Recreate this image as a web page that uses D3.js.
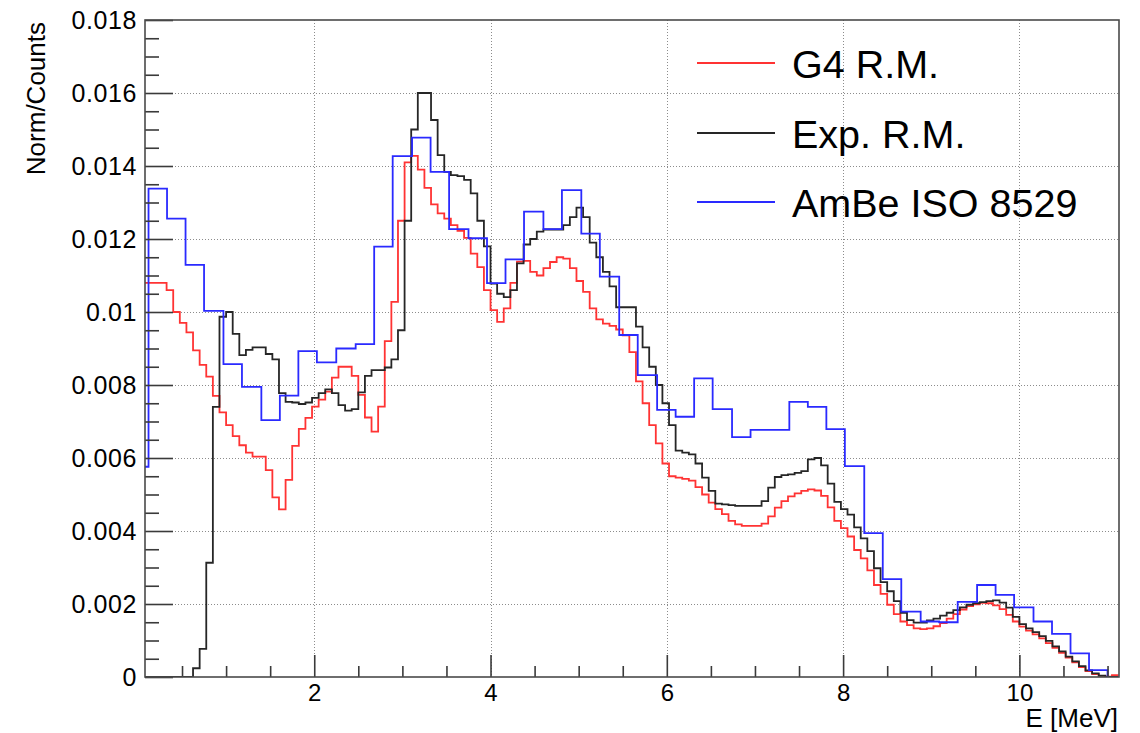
<!DOCTYPE html>
<html>
<head>
<meta charset="utf-8">
<script src="https://cdn.jsdelivr.net/npm/d3@7"></script>
<style>
  html, body { margin: 0; padding: 0; background: #fff; }
  svg { display: block; }
  text { font-family: "Liberation Sans", Arial, Helvetica, sans-serif; fill: #000; }
</style>
</head>
<body>
<svg id="chart" width="1140" height="733"></svg>
<script>
// Fine-binned histograms (G4 response matrix and experimental response matrix):
// 148 bins of 0.075 MeV starting at 0.025 MeV.
const fineBinLow = 0.025;
const fineBinWidth = 0.075;

const g4Values = [
  0.0108, 0.0108, 0.0108, 0.0108, 0.0106, 0.0100, 0.0097, 0.00944, 0.00895, 0.00855,
  0.00823, 0.0077, 0.00725, 0.0069, 0.0066, 0.00635, 0.00615, 0.00604, 0.00604, 0.00567,
  0.00492, 0.00459, 0.0054, 0.00633, 0.0068, 0.0071, 0.00741, 0.0076, 0.00782, 0.0082,
  0.0085, 0.0085, 0.00825, 0.00773, 0.00711, 0.00672, 0.00741, 0.0092, 0.01028, 0.0125,
  0.0141, 0.01428, 0.0139, 0.0134, 0.01295, 0.0127, 0.01256, 0.01238, 0.01222, 0.01203,
  0.0116, 0.01123, 0.0106, 0.01005, 0.00973, 0.0101, 0.0108, 0.01138, 0.0114, 0.0111,
  0.011, 0.0112, 0.01137, 0.0115, 0.01146, 0.0112, 0.01085, 0.01055, 0.0101, 0.0098,
  0.00968, 0.00962, 0.00952, 0.00936, 0.0089, 0.0081, 0.0075, 0.0069, 0.0064, 0.00585,
  0.0055, 0.00546, 0.00543, 0.00538, 0.0052, 0.005, 0.00478, 0.0046, 0.00446, 0.00428,
  0.00418, 0.00414, 0.00414, 0.00414, 0.0042, 0.0044, 0.00464, 0.00482, 0.00495, 0.00503,
  0.0051, 0.00514, 0.00511, 0.00496, 0.00465, 0.00428, 0.00408, 0.00385, 0.00348, 0.00325,
  0.00292, 0.00252, 0.00228, 0.00198, 0.00172, 0.00152, 0.00142, 0.00133, 0.00131, 0.00133,
  0.00139, 0.00148, 0.0016, 0.00172, 0.00185, 0.00194, 0.00199, 0.00203, 0.00202, 0.00196,
  0.00186, 0.0017, 0.00152, 0.00138, 0.00127, 0.00117, 0.00106, 0.00093, 0.0008, 0.00066,
  0.00053, 0.0004, 0.00027, 0.00016, 0.00008, 0.00003, 0.00001, 0.00005
];

const expValues = [
  0, 0, 0, 0, 0, 0, 0, 0, 0.00024, 0.00077,
  0.00313, 0.0074, 0.00987, 0.0100, 0.0094, 0.00882, 0.00896, 0.00903, 0.00903, 0.00885,
  0.0087, 0.00778, 0.00754, 0.00752, 0.00748, 0.00752, 0.00765, 0.00778, 0.00788, 0.00778,
  0.00745, 0.0073, 0.00734, 0.0078, 0.00825, 0.00841, 0.00841, 0.00848, 0.0087, 0.0095,
  0.0125, 0.0150, 0.0160, 0.0160, 0.01526, 0.0143, 0.01384, 0.01375, 0.01372, 0.01362,
  0.01325, 0.0125, 0.0118, 0.01078, 0.0105, 0.01041, 0.0106, 0.01133, 0.01185, 0.012,
  0.0122, 0.01226, 0.01226, 0.01226, 0.01238, 0.0126, 0.01286, 0.0126, 0.0119, 0.0115,
  0.0111, 0.0107, 0.01013, 0.01013, 0.01013, 0.0096, 0.00903, 0.0085, 0.0080, 0.0075,
  0.0069, 0.0062, 0.00615, 0.0061, 0.00585, 0.00546, 0.0051, 0.00475, 0.00473, 0.00471,
  0.00469, 0.00469, 0.00469, 0.00469, 0.00482, 0.00519, 0.00548, 0.00553, 0.00555, 0.00559,
  0.00564, 0.00596, 0.006, 0.0058, 0.0053, 0.0048, 0.0046, 0.00445, 0.0041, 0.0038,
  0.00345, 0.00298, 0.0026, 0.00235, 0.00208, 0.00176, 0.00156, 0.00149, 0.00149, 0.00155,
  0.0016, 0.00168, 0.00176, 0.00183, 0.00191, 0.00198, 0.00202, 0.00205, 0.00208, 0.0021,
  0.00204, 0.0019, 0.00165, 0.00145, 0.00133, 0.00123, 0.00112, 0.00099, 0.00084, 0.0007,
  0.00056, 0.00043, 0.0003, 0.00018, 0.0001, 0.00004, 0, 0
];

// ISO 8529 AmBe reference spectrum: coarse bins with explicit edges (MeV).
const isoEdges = [
  -0.09, 0.12, 0.33, 0.54, 0.75, 0.97, 1.18, 1.40, 1.61, 1.82,
  2.03, 2.25, 2.47, 2.68, 2.89, 3.11, 3.32, 3.53, 3.75, 3.96,
  4.17, 4.38, 4.60, 4.81, 5.03, 5.24, 5.46, 5.67, 5.89, 6.10,
  6.31, 6.52, 6.74, 6.95, 7.17, 7.39, 7.60, 7.81, 8.02, 8.24,
  8.45, 8.66, 8.88, 9.09, 9.30, 9.52, 9.73, 9.94, 10.16, 10.37,
  10.58, 10.79, 11.00
];
const isoValues = [
  0.00576, 0.01338, 0.01256, 0.01129, 0.01003, 0.00857, 0.00795, 0.00704, 0.00771, 0.00893,
  0.00862, 0.00900, 0.00912, 0.01179, 0.01427, 0.01478, 0.01384, 0.01227, 0.01202, 0.01079,
  0.01144, 0.01275, 0.01227, 0.01334, 0.01215, 0.01097, 0.00937, 0.00827, 0.00732, 0.00713,
  0.00818, 0.00734, 0.00657, 0.00677, 0.00677, 0.00754, 0.0074, 0.00679, 0.00578, 0.00394,
  0.00268, 0.00179, 0.00152, 0.0015, 0.00206, 0.00252, 0.00225, 0.00191, 0.00152, 0.00118,
  0.00065, 0.00019
];

const seriesNames = ["G4 R.M.", "Exp. R.M.", "AmBe ISO 8529"];
const seriesColors = ["#ff3333", "#262626", "#2a2aff"];

const xTickLabels = ["2", "4", "6", "8", "10"];
const yTickLabels = ["0", "0.002", "0.004", "0.006", "0.008", "0.01", "0.012", "0.014", "0.016", "0.018"];
const xTitle = "E [MeV]";
const yTitle = "Norm/Counts";

// ---- layout ----
const plot = { left: 145, top: 20, right: 1119, bottom: 677 };
const svg = d3.select("#chart");

const x = d3.scaleLinear().domain([0.08, 11.13]).range([plot.left, plot.right]);
const y = d3.scaleLinear().domain([0, 0.018]).range([plot.bottom, plot.top]);

const xMajor = xTickLabels.map(Number);
const yMajor = yTickLabels.map(Number);
const xMinor = d3.range(0.5, 11.01, 0.5).filter(v => !xMajor.some(m => Math.abs(m - v) < 1e-9));
const yMinor = d3.range(0.0005, 0.0180, 0.0005).filter(v => !yMajor.some(m => Math.abs(m - v) < 1e-9));

// ---- grid ----
const grid = svg.append("g")
  .attr("stroke", "#8c8c8c")
  .attr("stroke-width", 1)
  .attr("stroke-dasharray", "1,2");
grid.selectAll("line.v").data(xMajor).join("line")
  .attr("x1", d => Math.round(x(d)) + 0.5).attr("x2", d => Math.round(x(d)) + 0.5)
  .attr("y1", plot.top).attr("y2", plot.bottom);
grid.selectAll("line.h").data(yMajor.filter(v => v > 0 && v < 0.018)).join("line")
  .attr("x1", plot.left).attr("x2", plot.right)
  .attr("y1", d => Math.round(y(d)) + 0.5).attr("y2", d => Math.round(y(d)) + 0.5);

// ---- histograms ----
svg.append("defs").append("clipPath").attr("id", "plotClip")
  .append("rect")
  .attr("x", plot.left).attr("y", plot.top)
  .attr("width", plot.right - plot.left).attr("height", plot.bottom - plot.top);

function fineSteps(values) {
  const pts = values.map((v, i) => [fineBinLow + i * fineBinWidth, v]);
  pts.push([fineBinLow + values.length * fineBinWidth, values[values.length - 1]]);
  return pts;
}
function edgeSteps(edges, values) {
  const pts = values.map((v, i) => [edges[i], v]);
  pts.push([edges[edges.length - 1], 0]);
  return pts;
}

const step = d3.line()
  .x(d => x(d[0]))
  .y(d => y(d[1]))
  .curve(d3.curveStepAfter);

const hists = [fineSteps(g4Values), fineSteps(expValues), edgeSteps(isoEdges, isoValues)];

svg.append("g").attr("clip-path", "url(#plotClip)")
  .selectAll("path").data(hists).join("path")
  .attr("d", step)
  .attr("fill", "none")
  .attr("stroke", (d, i) => seriesColors[i])
  .attr("stroke-width", 1.8)
  .attr("stroke-linejoin", "miter");

// ---- axes (ticks drawn inside the frame) ----
function styleAxis(size) {
  return g => {
    g.select(".domain").remove();
    g.selectAll(".tick line").attr("stroke", "#3a3a3a").attr("stroke-width", 1.6);
    g.selectAll("text")
      .attr("font-family", '"Liberation Sans", Arial, Helvetica, sans-serif')
      .attr("font-size", size)
      .attr("fill", "#000");
  };
}

svg.append("g").attr("transform", `translate(0,${plot.bottom})`)
  .call(d3.axisBottom(x).tickValues(xMinor).tickSize(-11).tickFormat(""))
  .call(styleAxis(24));
svg.append("g").attr("transform", `translate(0,${plot.bottom})`)
  .call(d3.axisBottom(x).tickValues(xMajor).tickSize(-22).tickPadding(7)
    .tickFormat((d, i) => xTickLabels[i]))
  .call(styleAxis(24));

svg.append("g").attr("transform", `translate(${plot.left},0)`)
  .call(d3.axisLeft(y).tickValues(yMinor).tickSize(-14).tickFormat(""))
  .call(styleAxis(25));
svg.append("g").attr("transform", `translate(${plot.left},0)`)
  .call(d3.axisLeft(y).tickValues(yMajor).tickSize(-28).tickPadding(8)
    .tickFormat((d, i) => yTickLabels[i]))
  .call(styleAxis(25))
  .selectAll("text").attr("letter-spacing", 0.6);

// ---- frame ----
svg.append("rect")
  .attr("x", plot.left).attr("y", plot.top)
  .attr("width", plot.right - plot.left).attr("height", plot.bottom - plot.top)
  .attr("fill", "none").attr("stroke", "#4a4a4a").attr("stroke-width", 1.6);

// ---- titles ----
svg.append("text")
  .attr("x", plot.right - 1).attr("y", 727)
  .attr("text-anchor", "end")
  .attr("font-size", 26)
  .text(xTitle);

svg.append("text")
  .attr("transform", "translate(45,22) rotate(-90)")
  .attr("text-anchor", "end")
  .attr("font-size", 26)
  .text(yTitle);

// ---- legend ----
const legendRows = [63, 133, 202];
const legend = svg.append("g");
seriesNames.forEach((name, i) => {
  legend.append("line")
    .attr("x1", 697).attr("x2", 775)
    .attr("y1", legendRows[i]).attr("y2", legendRows[i])
    .attr("stroke", seriesColors[i]).attr("stroke-width", 2);
  legend.append("text")
    .attr("x", 792).attr("y", legendRows[i] + 15)
    .attr("font-size", 39.5)
    .text(name);
});
</script>
</body>
</html>
